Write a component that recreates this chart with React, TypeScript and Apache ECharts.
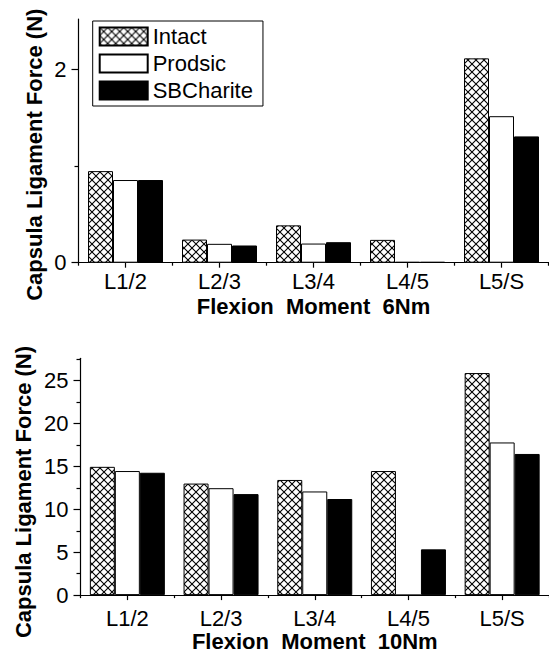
import React, { useEffect, useRef } from 'react';
import * as echarts from 'echarts';

const categories = ['L1/2', 'L2/3', 'L3/4', 'L4/5', 'L5/S'];
const seriesNames = ['Intact', 'Prodsic', 'SBCharite'];

// Flexion moment 6Nm
const intact6 = [0.947, 0.239, 0.386, 0.236, 2.113];
const prodsic6 = [0.855, 0.195, 0.198, 0.008, 1.515];
const sbcharite6 = [0.855, 0.178, 0.212, 0.008, 1.306];

// Flexion moment 10Nm
const intact10 = [14.95, 13.0, 13.42, 14.46, 25.88];
const prodsic10 = [14.46, 12.46, 12.08, 0, 17.79];
const sbcharite10 = [14.26, 11.77, 11.2, 5.33, 16.45];

const yTicks6 = [0, 2];
const yMinorTicks6 = [1];
const yTicks10 = [0, 5, 10, 15, 20, 25];
const yMinorTicks10 = [2.5, 7.5, 12.5, 17.5, 22.5, 27.5];

const yTitle = 'Capsula Ligament Force (N)';
const xTitle6 = 'Flexion  Moment  6Nm';
const xTitle10 = 'Flexion  Moment  10Nm';

const FONT = 'Liberation Sans, Arial, sans-serif';

function makeHatch(): HTMLCanvasElement {
  const s = 8;
  const c = document.createElement('canvas');
  c.width = s;
  c.height = s;
  const ctx = c.getContext('2d')!;
  ctx.fillStyle = '#ffffff';
  ctx.fillRect(0, 0, s, s);
  ctx.strokeStyle = '#000000';
  ctx.lineWidth = 1.1;
  ctx.beginPath();
  ctx.moveTo(0, 0);
  ctx.lineTo(s, s);
  ctx.moveTo(s, 0);
  ctx.lineTo(0, s);
  ctx.stroke();
  return c;
}

export default function App() {
  const ref = useRef<HTMLDivElement>(null);

  useEffect(() => {
    if (!ref.current) return;
    const chart = echarts.init(ref.current, undefined, { renderer: 'svg' });
    const hatch = makeHatch();
    const fills = [
      { image: hatch, repeat: 'repeat' },
      '#ffffff',
      '#000000',
    ];

    const grids = [
      { left: 78.5, top: 19, width: 470, height: 243.7 },
      { left: 80.5, top: 358.3, width: 471.5, height: 240 },
    ];

    const mainX = (gridIndex: number, name: string, labelMargin: number, nameGap: number) => ({
      type: 'category',
      gridIndex,
      position: 'bottom',
      data: categories,
      name,
      nameLocation: 'middle',
      nameGap,
      nameTextStyle: { fontFamily: FONT, fontSize: 22, fontWeight: 'bold', color: '#000' },
      axisLine: { show: true, lineStyle: { color: '#000', width: 1.2 } },
      axisTick: { show: true, alignWithLabel: true, length: 5, lineStyle: { color: '#000', width: 1.2 } },
      axisLabel: { fontFamily: FONT, fontSize: 22, color: '#000', margin: labelMargin },
      splitLine: { show: false },
    });
    const tickX = (gridIndex: number) => ({
      type: 'category',
      gridIndex,
      position: 'bottom',
      data: categories,
      axisLine: { show: false },
      axisTick: { show: true, alignWithLabel: false, length: 3, lineStyle: { color: '#000', width: 1.2 } },
      axisLabel: { show: false },
      splitLine: { show: false },
    });
    const mainY = (gridIndex: number, max: number, ticks: number[], interval: number) => ({
      type: 'value',
      gridIndex,
      min: 0,
      max,
      interval,
      axisLine: { show: true, lineStyle: { color: '#000', width: 1.2 } },
      axisTick: { show: true, inside: false, length: 7, customValues: ticks, lineStyle: { color: '#000', width: 1.2 } },
      axisLabel: { fontFamily: FONT, fontSize: 22, color: '#000', margin: 12, customValues: ticks },
      splitLine: { show: false },
    });
    const minorY = (gridIndex: number, max: number, ticks: number[], interval: number) => ({
      type: 'value',
      gridIndex,
      position: 'left',
      offset: 0,
      min: 0,
      max,
      interval,
      axisLine: { show: false },
      axisTick: { show: true, inside: false, length: 4, customValues: ticks, lineStyle: { color: '#000', width: 1.2 } },
      axisLabel: { show: false },
      splitLine: { show: false },
    });

    const sets = [
      [intact6, prodsic6, sbcharite6],
      [intact10, prodsic10, sbcharite10],
    ];
    const series: any[] = [];
    sets.forEach((vals, g) => {
      vals.forEach((data, i) => {
        series.push({
          type: 'bar',
          name: seriesNames[i],
          xAxisIndex: g * 2,
          yAxisIndex: g * 2,
          data,
          barWidth: 25,
          barGap: '0%',
          itemStyle: { color: fills[i], borderColor: '#000', borderWidth: 1 },
          emphasis: { disabled: true },
        });
      });
    });

    chart.setOption({
      animation: false,
      grid: grids,
      xAxis: [
        mainX(0, xTitle6, 8, 33),
        tickX(0),
        mainX(1, xTitle10, 12, 32),
        tickX(1),
      ],
      yAxis: [
        mainY(0, 2.52, yTicks6, 2),
        minorY(0, 2.52, yMinorTicks6, 2),
        mainY(1, 27.6, yTicks10, 5),
        minorY(1, 27.6, yMinorTicks10, 5),
      ],
      legend: {
        data: seriesNames,
        orient: 'vertical',
        left: 92.7,
        top: 21,
        itemWidth: 48,
        itemHeight: 18,
        itemGap: 5,
        padding: [4.5, 10, 4.5, 6],
        borderColor: '#000',
        borderWidth: 1,
        icon: 'rect',
        selectedMode: false,
        textStyle: { fontFamily: FONT, fontSize: 22, color: '#000', lineHeight: 22 },
      },
      graphic: [
        {
          type: 'text',
          x: 34,
          y: 154.7,
          rotation: Math.PI / 2,
          style: {
            text: yTitle,
            font: `bold 22px ${FONT}`,
            fill: '#000',
            align: 'center',
            verticalAlign: 'middle',
          },
        },
        {
          type: 'text',
          x: 23.5,
          y: 492,
          rotation: Math.PI / 2,
          style: {
            text: yTitle,
            font: `bold 22px ${FONT}`,
            fill: '#000',
            align: 'center',
            verticalAlign: 'middle',
          },
        },
      ],
      series,
    });

    return () => chart.dispose();
  }, []);

  return (
    <div
      ref={ref}
      style={{ position: 'absolute', left: 0, top: 0, width: 549, height: 653, background: '#fff' }}
    />
  );
}
